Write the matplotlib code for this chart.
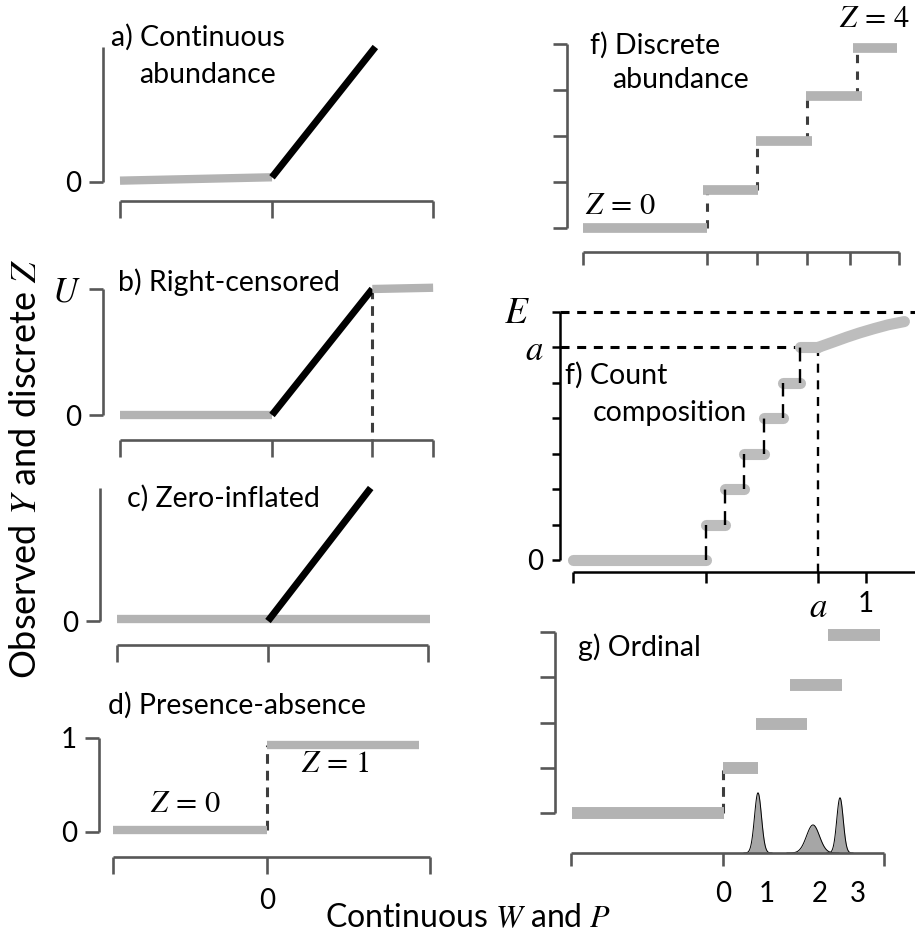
import numpy as np
import matplotlib
matplotlib.use("Agg")
import matplotlib.pyplot as plt

plt.rcParams['font.family'] = ['Lato', 'DejaVu Sans']
plt.rcParams['mathtext.fontset'] = 'stix'
plt.rcParams['lines.scale_dashes'] = False

W, H, DPI = 915, 941, 100

# ---- values ----
# panels a-d share the latent W axis
W_TICKS = [-1, 0, 1.06]

# a) continuous abundance
a_latent_x = [-1, 0]
a_latent_y = [0.01, 0.035]
a_obs_x = [0, 0.68]
a_obs_y = [0.035, 1.0]

# b) right-censored at U
b_latent_x = [-1, 0]
b_latent_y = [0.0, 0.0]
b_obs_x = [0, 0.66]
b_obs_y = [0.0, 1.0]
b_cens_x = [0.66, 1.06]
b_cens_y = [1.0, 1.01]
b_cut = 0.66

# c) zero-inflated
c_zero_x = [-1, 1.07]
c_zero_y = [0.015, 0.015]
c_obs_x = [0, 0.68]
c_obs_y = [0.0, 1.0]

# d) presence-absence
d_absent_x = [-1, 0]
d_absent_y = [0.02, 0.02]
d_present_x = [0, 0.99]
d_present_y = [0.93, 0.93]

# f) discrete abundance
f_xticks = [-2.48, 0, 1, 2, 2.86, 3.84]
f_levels = [0, 0.83, 1.9, 2.87, 3.91]
f_start = [-2.48, -0.08, 0.98, 1.98, 2.92]
f_end = [0.0, 1.02, 2.1, 3.1, 3.8]
f_steps = [0, 1, 2, 3]

# f) count composition
cc_left = -0.83
cc_a = 0.7
cc_edges = [0, 0.12, 0.24, 0.36, 0.48, 0.59, 0.7]
cc_curve_x = [0.70, 0.75, 0.80, 0.88, 0.96, 1.05, 1.14, 1.24]
cc_curve_y = [6.0, 6.08, 6.16, 6.29, 6.41, 6.53, 6.64, 6.73]
cc_E = 7

# g) ordinal
g_levels = [0, 1.0, 1.97, 2.83, 3.94]
g_start = [-3.02, 0.0, 0.66, 1.34, 2.1]
g_end = [0.02, 0.7, 1.68, 2.38, 3.14]
g_xbounds = [-3.04, 3.22]
g_labels = ['1', '2', '3']
g_label_x = [0.88, 1.94, 2.7]
g_peak_mu = [0.7, 1.8, 2.34]
g_peak_h = [1.33, 0.62, 1.22]
g_peak_sd = [0.07, 0.13, 0.065]

GRAY = '#b3b3b3'
SPINE = '#575757'
DASH = '#3d3d3d'
TITLE = 20.5
TICK = 20
ZSIZE = 22

fig = plt.figure(figsize=(W / DPI, H / DPI), dpi=DPI)


def make_panel(spine_x, spine_y, right, top, xref, yref):
    (pa, va), (pb, vb) = xref
    sx = (vb - va) / (pb - pa)
    (qa, ua), (qb, ub) = yref
    sy = (ub - ua) / (qb - qa)
    ax = fig.add_axes([spine_x / W, 1 - spine_y / H,
                       (right - spine_x) / W, (spine_y - top) / H])
    ax.set_xlim(va + (spine_x - pa) * sx, va + (right - pa) * sx)
    ax.set_ylim(ua + (spine_y - qa) * sy, ua + (top - qa) * sy)
    ax.patch.set_visible(False)
    ax.spines['top'].set_visible(False)
    ax.spines['right'].set_visible(False)
    return ax


def style(ax, color=SPINE, lw=1.9, xlen=12, ylen=10):
    for s in ('left', 'bottom'):
        ax.spines[s].set_color(color)
        ax.spines[s].set_linewidth(lw)
        ax.spines[s].set_capstyle('butt')
    ax.tick_params(axis='x', direction='out', length=xlen, width=lw, color=color,
                   labelsize=TICK, pad=6)
    ax.tick_params(axis='y', direction='out', length=ylen, width=lw, color=color,
                   labelsize=TICK, pad=6)


def ftext(x, y, s, size=TITLE, **kw):
    fig.text(x / W, 1 - y / H, s, fontsize=size, va='center', **kw)


def gray(ax, x, y, lw=6, **kw):
    ax.plot(x, y, color=GRAY, lw=lw, solid_capstyle='butt', clip_on=False, **kw)


def black(ax, x, y):
    ax.plot(x, y, color='black', lw=5, solid_capstyle='butt', clip_on=False)


def dashed(ax, x, y, color=DASH, lw=2.2, dash=(7, 5)):
    ax.plot(x, y, color=color, lw=lw, linestyle=(0, dash), clip_on=False)


def w_axis(ax, labels=False):
    ax.spines['bottom'].set_bounds(W_TICKS[0], W_TICKS[-1])
    ax.set_xticks(W_TICKS)
    ax.set_xticklabels(['', '0', ''] if labels else [])


# a) continuous abundance
ax = make_panel(103, 201, 450, 30, ((120, -1), (272, 0)), ((182, 0), (47, 1)))
style(ax)
w_axis(ax)
ax.spines['left'].set_bounds(0, 1)
ax.set_yticks([0])
ax.set_yticklabels(['0'])
gray(ax, a_latent_x, a_latent_y)
black(ax, a_obs_x, a_obs_y)
ftext(198, 37, 'a) Continuous', ha='center')
ftext(208, 75, 'abundance', ha='center')

# b) right-censored
ax = make_panel(103, 440, 450, 270, ((120, -1), (272, 0)), ((415, 0), (289, 1)))
style(ax)
ax.spines['bottom'].set_bounds(W_TICKS[0], W_TICKS[-1])
ax.set_xticks(W_TICKS[:2] + [b_cut] + W_TICKS[2:])
ax.set_xticklabels([])
ax.spines['left'].set_bounds(0, 1)
ax.set_yticks([0, 1])
ax.set_yticklabels(['0', '$U$'])
ax.get_yticklabels()[1].set_fontsize(25)
dashed(ax, [b_cut, b_cut], [b_cens_y[0], ax.get_ylim()[0]])
gray(ax, b_latent_x, b_latent_y)
black(ax, b_obs_x, b_obs_y)
gray(ax, b_cens_x, b_cens_y)
ftext(118, 282, 'b) Right-censored', ha='left')

# c) zero-inflated
ax = make_panel(100, 645, 450, 470, ((117, -1), (268, 0)), ((621, 0), (488, 1)))
style(ax)
w_axis(ax)
ax.spines['left'].set_bounds(0, 1)
ax.set_yticks([0])
ax.set_yticklabels(['0'])
gray(ax, c_zero_x, c_zero_y)
black(ax, c_obs_x, c_obs_y)
ftext(127, 498, 'c) Zero-inflated', ha='left')

# d) presence-absence
ax = make_panel(99, 857, 450, 720, ((113, -1), (267, 0)), ((832, 0), (738, 1)))
style(ax)
w_axis(ax, labels=True)
ax.tick_params(axis='x', pad=10)
ax.spines['left'].set_bounds(0, 1)
ax.set_yticks([0, 1])
ax.set_yticklabels(['0', '1'])
dashed(ax, [0, 0], [d_absent_y[0], d_present_y[0]])
gray(ax, d_absent_x, d_absent_y)
gray(ax, d_present_x, d_present_y)
ax.text(-0.53, 0.31, r'$Z\,=\,0$', fontsize=ZSIZE, ha='center', va='center')
ax.text(0.44, 0.73, r'$Z\,=\,1$', fontsize=ZSIZE, ha='center', va='center')
ftext(108, 705, 'd) Presence-absence', ha='left')

# f) discrete abundance
ax = make_panel(567, 252, 912, 20, ((707, 0), (757, 1)), ((228, 0), (182, 1)))
style(ax, xlen=9.5, ylen=10)
ax.spines['bottom'].set_bounds(f_xticks[0], f_xticks[-1])
ax.set_xticks(f_xticks)
ax.set_xticklabels([])
ax.spines['left'].set_bounds(0, 4)
ax.set_yticks(range(5))
ax.set_yticklabels([])
for k, xs in enumerate(f_steps):
    dashed(ax, [xs, xs], [f_levels[k], f_levels[k + 1]], dash=(6, 6))
for lev, x0, x1 in zip(f_levels, f_start, f_end):
    gray(ax, [x0, x1], [lev, lev], lw=7)
ax.text(-1.74, 0.5, r'$Z\,=\,0$', fontsize=ZSIZE, ha='center', va='center')
ax.text(3.34, 4.57, r'$Z\,=\,4$', fontsize=ZSIZE, ha='center', va='center')
ftext(590, 45, 'f) Discrete', ha='left')
ftext(612, 80, 'abundance', ha='left')

# f) count composition
ax = make_panel(560, 572, 915, 290, ((706, 0), (866, 1)), ((560, 0), (312, 7)))
style(ax, color='black', lw=1.8, xlen=8, ylen=6)
ax.spines['bottom'].set_bounds(cc_left, ax.get_xlim()[1])
ax.set_xticks([cc_left, 0, cc_a, 1])
ax.set_xticklabels(['', '', '$a$', '1'])
ax.get_xticklabels()[2].set_fontsize(25)
ax.tick_params(axis='x', pad=6)
ax.spines['left'].set_bounds(0, cc_E)
ax.set_yticks(range(cc_E + 1))
ylabs = [''] * (cc_E + 1)
ylabs[0] = '0'
ylabs[6] = '$a$'
ax.set_yticklabels(ylabs)
ax.get_yticklabels()[6].set_fontsize(25)
ftext(517, 312, '$E$', size=27, ha='center')
x_left = ax.get_xlim()[0]
dashed(ax, [x_left, ax.get_xlim()[1]], [cc_E, cc_E], color='black', dash=(6.5, 5.5))
dashed(ax, [x_left, cc_edges[-2]], [6, 6], color='black', dash=(6.5, 5.5))
dashed(ax, [cc_a, cc_a], [6, ax.get_ylim()[0]], color='black', lw=1.7, dash=(6.5, 5.5))
ccg = dict(color='#bdbdbd', lw=8, solid_capstyle='round', clip_on=False)
ax.plot([cc_left, 0], [0, 0], **ccg)
for k in range(len(cc_edges) - 1):
    ax.plot([cc_edges[k], cc_edges[k + 1]], [k + 1, k + 1], **ccg)
ax.plot(cc_curve_x, cc_curve_y, solid_joinstyle='round', **ccg)
for k in range(len(cc_edges) - 1):
    dashed(ax, [cc_edges[k], cc_edges[k]], [k, k + 1], color='black', lw=1.7, dash=(10, 5.5))
ftext(565, 375, 'f) Count', ha='left')
ftext(593, 413, 'composition', ha='left')

# g) ordinal
ax = make_panel(555, 853, 905, 615, ((723, 0), (773, 1)), ((813, 0), (767.75, 1)))
style(ax, xlen=9, ylen=11)
ax.spines['bottom'].set_bounds(*g_xbounds)
ax.set_xticks([g_xbounds[0], 0, g_xbounds[1]])
ax.set_xticklabels(['', '0', ''])
ax.tick_params(axis='x', which='major', pad=11)
ax.set_xticks(g_label_x, labels=g_labels, minor=True)
ax.tick_params(axis='x', which='minor', length=0, pad=20, labelsize=TICK)
ax.spines['left'].set_bounds(0, 4)
ax.set_yticks(range(5))
ax.set_yticklabels([])
dashed(ax, [0, 0], [g_levels[0], g_levels[1]])
for lev, x0, x1 in zip(g_levels, g_start, g_end):
    gray(ax, [x0, x1], [lev, lev], lw=8.6)
base = ax.get_ylim()[0]
for mu, h, sd in zip(g_peak_mu, g_peak_h, g_peak_sd):
    xx = np.linspace(mu - 4 * sd, mu + 4 * sd, 120)
    yy = base + h * np.exp(-0.5 * ((xx - mu) / sd) ** 2)
    ax.fill_between(xx, base, yy, color='#a6a6a6', lw=0)
    ax.plot(xx, yy, color='black', lw=0.7)
ftext(578, 647, 'g) Ordinal', ha='left')

# shared axis titles
fig.text(26 / W, 1 - 469 / H, 'Observed $Y$ and discrete $Z$', rotation=90,
         fontsize=26, ha='center', va='center')
fig.text(468 / W, 1 - 918 / H, 'Continuous $W$ and $P$', fontsize=23,
         ha='center', va='center')

fig.savefig('out.png', dpi=DPI)
